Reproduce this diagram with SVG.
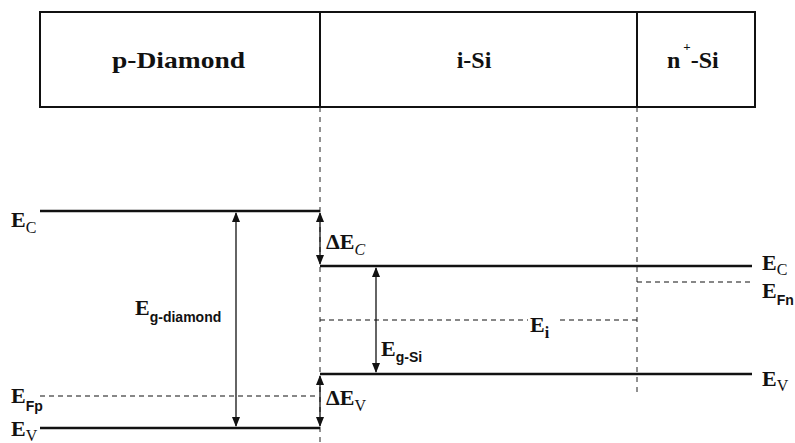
<svg xmlns="http://www.w3.org/2000/svg" width="795" height="443" viewBox="0 0 795 443">
<defs>
<marker id="ah" markerWidth="10" markerHeight="10" refX="9" refY="4" orient="auto-start-reverse" markerUnits="userSpaceOnUse">
<path d="M0,0 L10,4 L0,8 Z" fill="#111"/>
</marker>
<style>
.box{fill:#fff;stroke:#111;stroke-width:2}
.lvl{stroke:#111;stroke-width:2.5;fill:none}
.dash{stroke:#111;stroke-width:1.2;stroke-dasharray:5 4;fill:none}
.vdash{stroke:#222;stroke-width:1;stroke-dasharray:5 5;fill:none}
.arr{stroke:#111;stroke-width:1.3;fill:none;marker-start:url(#ah);marker-end:url(#ah)}
text{font-family:'Liberation Serif','Times New Roman','DejaVu Serif',serif;font-weight:bold;fill:#111}
.hd{font-size:24px}
.E{font-size:22px}
.sub{font-family:'Liberation Serif','Times New Roman','DejaVu Serif',serif;font-size:16px}
.ss{font-family:'Liberation Sans',Arial,sans-serif;font-weight:bold;font-size:14px}
</style>
</defs>
<g id="layers">
<g id="p-diamond"><rect class="box" x="40" y="12" width="280" height="95"/><text class="hd" x="112" y="68" textLength="133" lengthAdjust="spacingAndGlyphs">p-Diamond</text></g>
<g id="i-si"><rect class="box" x="320" y="12" width="317" height="95"/><text class="hd" x="474" y="68" text-anchor="middle">i-Si</text></g>
<g id="n-si"><rect class="box" x="637" y="12" width="118" height="95"/><text class="hd" x="667" y="68">n<tspan font-size="13" dy="-17" dx="3">+</tspan><tspan dy="17" dx="0">-Si</tspan></text></g>
</g>
<g id="connectors">
<line class="vdash" x1="320" y1="107" x2="320" y2="443"/>
<line class="vdash" x1="637" y1="107" x2="637" y2="393"/>
<line class="lvl" x1="40" y1="211" x2="320" y2="211"/>
<line class="lvl" x1="40" y1="428" x2="320" y2="428"/>
<line class="lvl" x1="320" y1="266" x2="752" y2="266"/>
<line class="lvl" x1="320" y1="374" x2="752" y2="374"/>
<line class="dash" x1="40" y1="396" x2="319" y2="396"/>
<line class="dash" x1="320" y1="320" x2="528" y2="320"/>
<line class="dash" x1="560" y1="320" x2="637" y2="320"/>
<line class="dash" x1="637" y1="282" x2="752" y2="282"/>
<line class="arr" x1="236" y1="213" x2="236" y2="426"/>
<line class="arr" x1="320" y1="213" x2="320" y2="264"/>
<line class="arr" x1="376" y1="268" x2="376" y2="372"/>
<line class="arr" x1="320" y1="376" x2="320" y2="426"/>
</g>
<g id="labels">
<g id="ec-left"><text class="E" x="11" y="227">E<tspan class="sub" font-weight="normal" dy="6">C</tspan></text></g>
<g id="eg-diamond"><text class="E" x="135" y="315" font-size="26">E<tspan class="ss" dy="7" font-size="15">g-diamond</tspan></text></g>
<g id="efp"><text class="E" x="11" y="403">E<tspan class="ss" dy="8" font-size="15">Fp</tspan></text></g>
<g id="ev-left"><text class="E" x="11" y="436">E<tspan class="sub" font-weight="normal" dy="5">V</tspan></text></g>
<g id="dec"><text class="E" x="326" y="249" font-size="24">ΔE<tspan class="sub" font-style="italic" font-weight="normal" dy="6">C</tspan></text></g>
<g id="dev"><text class="E" x="326" y="405" font-size="24">ΔE<tspan class="sub" font-weight="normal" dy="6">V</tspan></text></g>
<g id="eg-si"><text class="E" x="381" y="356">E<tspan class="ss" dy="6">g-Si</tspan></text></g>
<g id="ei"><text class="E" x="530" y="332">E<tspan class="sub" dy="6">i</tspan></text></g>
<g id="ec-right"><text class="E" x="762" y="270">E<tspan class="sub" font-weight="normal" dy="5">C</tspan></text></g>
<g id="efn"><text class="E" x="762" y="298">E<tspan class="ss" dy="7">Fn</tspan></text></g>
<g id="ev-right"><text class="E" x="762" y="386">E<tspan class="sub" font-weight="normal" dy="5">V</tspan></text></g>
</g>
</svg>
